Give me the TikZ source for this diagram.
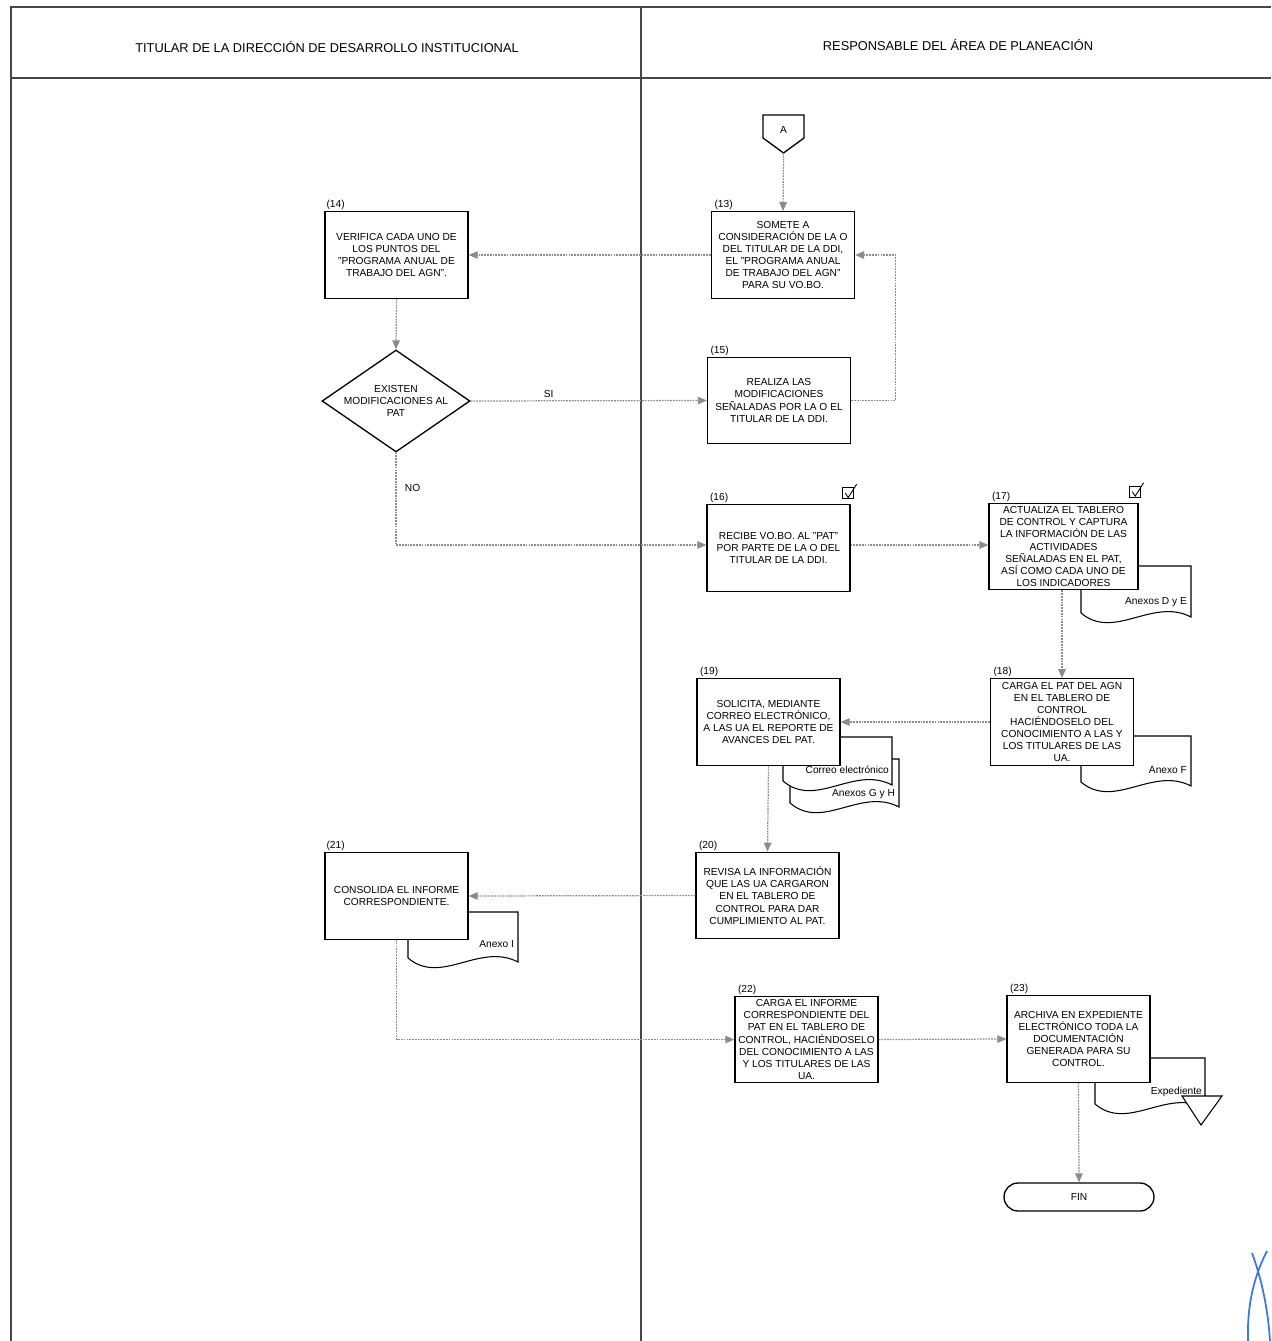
\documentclass[tikz,border=0pt]{standalone}
\usepackage{fontspec}
\setmainfont{Liberation Sans}
\usepackage{tikz}
\usetikzlibrary{shapes.geometric, arrows.meta, positioning, calc}
\usepackage{xcolor}
\definecolor{flowgray}{RGB}{140,140,140}
\definecolor{framegray}{RGB}{70,70,70}
\definecolor{inkblue}{RGB}{60,120,225}

\newcommand{\boxfont}{\fontsize{5.8}{6.9}\selectfont}
% hoja de documento: x izq, y sup, x der, y inf
\newcommand{\docsheet}[4]{%
  \draw[docline] (#1,#2) -- (#1,#4)
    .. controls ({#1+0.3*(#3-#1)},{#4+28}) and ({#1+0.65*(#3-#1)},{#4-16}) .. (#3,{#4+4})
    -- (#3,#2) -- cycle;}

\begin{document}
\begin{tikzpicture}[
    x=0.02cm, y=-0.02cm,
    box/.style={rectangle, draw, line width=0.75pt, fill=white, minimum width=2.86cm, minimum height=1.73cm, inner sep=1pt, align=center, font=\boxfont},
    decision/.style={diamond, draw, line width=0.75pt, fill=white, aspect=1.45, inner sep=-2pt, minimum width=2.96cm, minimum height=2.04cm, align=center, font=\boxfont},
    term/.style={rectangle, rounded corners=0.28cm, draw, line width=0.75pt, minimum width=3cm, minimum height=0.56cm, font=\boxfont},
    num/.style={font=\boxfont, inner sep=0.5pt},
    doclabel/.style={font=\boxfont, inner sep=1pt},
    docline/.style={draw, line width=0.6pt, fill=white},
    chk/.style={rectangle, draw, line width=0.5pt, minimum size=0.22cm, inner sep=0pt},
    hdr/.style={font=\fontsize{7.3}{8.5}\selectfont, inner sep=1pt},
    frame/.style={framegray, line width=0.85pt},
    arrow/.style={flowgray, line width=0.7pt, dash pattern=on 1pt off 0.6pt, -{Triangle[length=1.8mm, width=1.5mm]}}
]
\useasboundingbox (0,0) rectangle (1271,1341);

% marco y carriles
\draw[frame] (11,1341) -- (11,7) -- (1271,7);
\draw[frame] (11,78) -- (1271,78);
\draw[frame] (641,7) -- (641,1341);
\node[hdr] (h1) at (327,47) {TITULAR DE LA DIRECCIÓN DE DESARROLLO INSTITUCIONAL};
\node[hdr] (h2) at (958,45) {RESPONSABLE DEL ÁREA DE PLANEACIÓN};

% documentos
\docsheet{1081}{566}{1191}{613}
\docsheet{1081}{736}{1191}{782}
\docsheet{790}{759}{899}{803}
\docsheet{783}{737}{892}{781}
\docsheet{408}{912}{518}{958}
\docsheet{1095}{1058}{1205}{1104}
\draw[docline] (1182,1096) -- (1222,1096) -- (1201,1125) -- cycle;

% conector fuera de pagina
\node[inner sep=0pt, font=\boxfont] (A) at (783.5,130) {A};
\draw[line width=0.75pt] (763,115) -- (804,115) -- (804,138) -- (783.5,153) -- (763,138) -- cycle;
\coordinate (Atip) at (783.5,153);

% actividades
\node[box] (b13) at (783,255) {SOMETE A\\CONSIDERACIÓN DE LA O\\DEL TITULAR DE LA DDI,\\EL "PROGRAMA ANUAL\\DE TRABAJO DEL AGN"\\PARA SU VO.BO.};
\node[box] (b14) at (396.5,255) {VERIFICA CADA UNO DE\\LOS PUNTOS DEL\\"PROGRAMA ANUAL DE\\TRABAJO DEL AGN".};
\node[decision] (d1) at (396,401) {EXISTEN\\MODIFICACIONES AL\\PAT};
\node[box] (b15) at (779,400.5) {REALIZA LAS\\MODIFICACIONES\\SEÑALADAS POR LA O EL\\TITULAR DE LA DDI.};
\node[box] (b16) at (778.5,548) {RECIBE VO.BO. AL "PAT"\\POR PARTE DE LA O DEL\\TITULAR DE LA DDI.};
\node[box, minimum width=2.98cm] (b17) at (1063.5,546.5) {ACTUALIZA EL TABLERO\\DE CONTROL Y CAPTURA\\LA INFORMACIÓN DE LAS\\ACTIVIDADES\\SEÑALADAS EN EL PAT,\\ASÍ COMO CADA UNO DE\\LOS INDICADORES};
\node[box] (b18) at (1062,722) {CARGA EL PAT DEL AGN\\EN EL TABLERO DE\\CONTROL\\HACIÉNDOSELO DEL\\CONOCIMIENTO A LAS Y\\LOS TITULARES DE LAS\\UA.};
\node[box] (b19) at (768.5,722) {SOLICITA, MEDIANTE\\CORREO ELECTRÓNICO,\\A LAS UA EL REPORTE DE\\AVANCES DEL PAT.};
\node[box] (b20) at (767.5,895.5) {REVISA LA INFORMACIÓN\\QUE LAS UA CARGARON\\EN EL TABLERO DE\\CONTROL PARA DAR\\CUMPLIMIENTO AL PAT.};
\node[box] (b21) at (396.5,896) {CONSOLIDA EL INFORME\\CORRESPONDIENTE.};
\node[box] (b22) at (806.5,1039.5) {CARGA EL INFORME\\CORRESPONDIENTE DEL\\PAT EN EL TABLERO DE\\CONTROL, HACIÉNDOSELO\\DEL CONOCIMIENTO A LAS\\Y LOS TITULARES DE LAS\\UA.};
\node[box] (b23) at (1078.5,1039) {ARCHIVA EN EXPEDIENTE\\ELECTRÓNICO TODA LA\\DOCUMENTACIÓN\\GENERADA PARA SU\\CONTROL.};
\node[term] (fin) at (1079,1197) {FIN};

% numeros de paso
\node[num, above right=0pt and 0.05cm of b13.north west] (n13) {(13)};
\node[num, above right=0pt and 0.02cm of b14.north west] (n14) {(14)};
\node[num, above right=0pt and 0.05cm of b15.north west] (n15) {(15)};
\node[num, above right=0pt and 0.05cm of b16.north west] (n16) {(16)};
\node[num, above right=0pt and 0.05cm of b17.north west] (n17) {(17)};
\node[num, above right=0pt and 0.05cm of b18.north west] (n18) {(18)};
\node[num, above right=0pt and 0.05cm of b19.north west] (n19) {(19)};
\node[num, above right=0pt and 0.05cm of b20.north west] (n20) {(20)};
\node[num, above right=0pt and 0.02cm of b21.north west] (n21) {(21)};
\node[num, above right=0pt and 0.05cm of b22.north west] (n22) {(22)};
\node[num, above right=0pt and 0.05cm of b23.north west] (n23) {(23)};

% marcas de control
\node[chk, above left=0.1cm and -0.06cm of b16.north east] (c16) {};
\node[chk, above left=0.1cm and -0.04cm of b17.north east] (c17) {};
\draw[line width=0.5pt] ([xshift=-0.05cm]c16.center) -- ([xshift=0.01cm, yshift=0.03cm]c16.south) -- ([xshift=0.06cm, yshift=0.06cm]c16.north east);
\draw[line width=0.5pt] ([xshift=-0.05cm]c17.center) -- ([xshift=0.01cm, yshift=0.03cm]c17.south) -- ([xshift=0.06cm, yshift=0.06cm]c17.north east);

% etiquetas de documentos
\node[doclabel, anchor=east] (lDE) at (1189,602) {Anexos D y E};
\node[doclabel, anchor=east] (lF) at (1189,770) {Anexo F};
\node[doclabel, anchor=east] (lCo) at (891,770) {Correo electrónico};
\node[doclabel, anchor=east] (lGH) at (897,794) {Anexos G y H};
\node[doclabel, anchor=east] (lI) at (516,944) {Anexo I};
\node[doclabel, anchor=east] (lEx) at (1204,1092) {Expediente};

% conectores
\draw[arrow] (Atip) -- (b13.north);
\draw[arrow] (b13.west) -- (b14.east);
\draw[arrow] (b14.south) -- (d1.north);
\draw[arrow] (d1.east) -- node[num, above=1pt, pos=0.33, black] (si) {SI} (b15.west);
\draw[arrow] (b15.east) -- ++(44,0) |- (b13.east);
\draw[arrow] (d1.south) |- node[num, pos=0.19, right=0.15cm, black] (no) {NO} ([yshift=0.06cm]b16.west);
\draw[arrow] ([yshift=0.06cm]b16.east) -- ([yshift=0.06cm]b16.east -| b17.west);
\draw[arrow] (b17.south -| b18.north) -- (b18.north);
\draw[arrow] (b18.west) -- (b19.east);
\draw[arrow] (b19.south) -- (b20.north);
\draw[arrow] (b20.west) -- (b21.east);
\draw[arrow] (b21.south) |- (b22.west);
\draw[arrow] (b22.east) -- (b23.west);
\draw[arrow] (b23.south) -- (fin.north);

% rubrica
\draw[inkblue, line width=1pt] (1252,1253) .. controls (1262,1280) and (1268,1310) .. (1270,1341);
\draw[inkblue, line width=1pt] (1267,1251) .. controls (1252,1280) and (1247,1310) .. (1248,1341);
\end{tikzpicture}
\end{document}
